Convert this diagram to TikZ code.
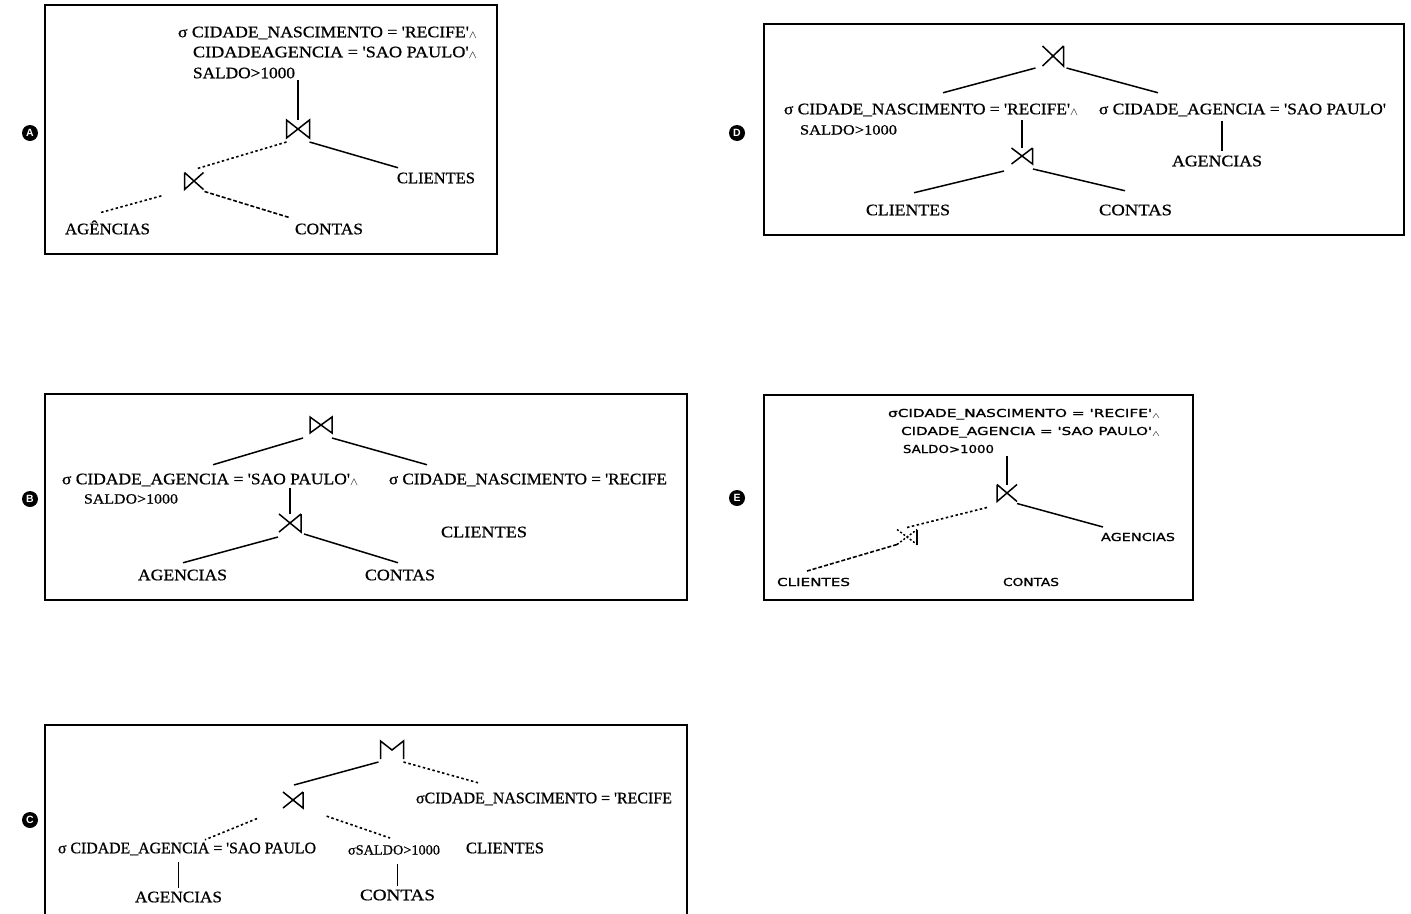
\documentclass[tikz,border=0pt]{standalone}
\usepackage{fontspec}
\usepackage{graphicx}
\setmainfont{Liberation Serif}[FakeBold=0.7]
\newfontfamily\esans{DejaVu Sans}[FakeBold=1.2]
\newfontfamily\csans{Liberation Sans}
\newcommand\tx[2]{\resizebox{#1pt}{\height}{#2}}
\newcommand\wg{\raisebox{-1pt}{$\scriptstyle\wedge$}}
\newcommand\qq{\textquotesingle}
\newcommand\gbow[1]{\draw[gl] (#1.north west)--(#1.south west)--(#1.north east)--(#1.south east)--cycle;}
\newcommand\gleftj[1]{\draw[gl] (#1.north west)--(#1.south west)--(#1.north east) (#1.north west)--(#1.south east);}
\newcommand\grightj[1]{\draw[gl] (#1.north east)--(#1.south east)--(#1.north west) (#1.south west)--(#1.north east);}
\newcommand\gmj[1]{\draw[gl] (#1.south west)--(#1.north west)--(#1.center)--(#1.north east)--(#1.south east);}
\tikzset{
  t/.style={inner sep=0pt, outer sep=0pt, anchor=west, text height=10.5pt, text depth=0pt, font=\fontsize{16}{18}\selectfont},
  ts/.style={t, text height=9pt, font=\fontsize{14}{16}\selectfont},
  te/.style={inner sep=0pt, outer sep=0pt, anchor=west, text height=8pt, text depth=0pt, font=\esans\fontsize{11}{13}\selectfont},
  sym/.style={rectangle, inner sep=0pt, outer sep=0pt, minimum width=#1pt, minimum height=17pt},
  gl/.style={line width=1.5pt},
  ln/.style={line width=1.5pt},
  dt/.style={line width=1.6pt, dash pattern=on 2.5pt off 2.5pt},
  dsh/.style={line width=1.6pt, dash pattern=on 4pt off 2pt},
  frame/.style={line width=2.6pt},
  badge/.style={circle, fill=black, text=white, inner sep=0pt, minimum size=16pt, font=\csans\bfseries\fontsize{10.5}{10.5}\selectfont},
}
\begin{document}
\begin{tikzpicture}[x=1pt, y=-1pt]
\useasboundingbox (0,0) rectangle (1411,913);

% ---------------- Panel A ----------------
\draw[frame] (45,5) rectangle (497,254);
\node[badge] (la) at (30,133) {A};
\node[t] (a1) at (178,32) {\tx{299}{σ CIDADE\_NASCIMENTO = \qq RECIFE\qq\wg}};
\node[t] (a2) at (193,52) {\tx{284}{CIDADEAGENCIA = \qq SAO PAULO\qq\wg}};
\node[t] (a3) at (193,73) {\tx{102}{SALDO>1000}};
\node[sym=23, minimum height=18pt] (aJ1) at (298,129) {};
\gbow{aJ1}
\node[sym=19] (aJ2) at (194,181) {};
\gleftj{aJ2}
\node[t] (acl) at (397,178) {\tx{78}{CLIENTES}};
\node[t] (aag) at (65,229) {\tx{85}{AGÊNCIAS}};
\node[t] (aco) at (295,229) {\tx{68}{CONTAS}};
\draw[ln, shorten >=2pt] (aJ1.north) -- (aJ1.north |- a3.south);
\draw[dt] ([shift={(0,4)}]aJ1.south west) -- ([shift={(-6,-4)}]aJ2.north east);
\draw[ln] ([shift={(0,4)}]aJ1.south east) -- ([shift={(1,-5)}]acl.north west);
\draw[dt, shorten <=24pt] (aJ2.south west) -- ([shift={(35,-11)}]aag.north west);
\draw[dsh] ([shift={(1,2)}]aJ2.south east) -- ([shift={(-5,-6)}]aco.north west);

% ---------------- Panel D ----------------
\draw[frame] (764,24) rectangle (1404,235);
\node[badge] (ld) at (737,133) {D};
\node[sym=21, minimum height=20pt] (dJ1) at (1053,56) {};
\grightj{dJ1}
\node[t] (d1) at (784,109) {\tx{294}{σ CIDADE\_NASCIMENTO = \qq RECIFE\qq\wg}};
\node[ts] (d2) at (800,130) {\tx{97}{SALDO>1000}};
\node[t] (d3) at (1099,109) {\tx{287}{σ CIDADE\_AGENCIA = \qq SAO PAULO\qq}};
\node[sym=21, minimum height=16pt] (dJ2) at (1022,156) {};
\grightj{dJ2}
\node[t] (dcl) at (866,210) {\tx{84}{CLIENTES}};
\node[t] (dco) at (1099,210) {\tx{73}{CONTAS}};
\node[t] (dag) at (1172,161) {\tx{90}{AGENCIAS}};
\coordinate (dv) at ([shift={(5,-5)}]dag.north);
\draw[ln] ([shift={(-7,2)}]dJ1.south west) -- ([shift={(159,-11)}]d1.north west);
\draw[ln] ([shift={(3,2)}]dJ1.south east) -- ([shift={(59,-11)}]d3.north west);
\draw[ln, shorten >=6pt] (dJ2.north) -- (dJ2.north |- d1.south);
\draw[ln] ([shift={(-7.5,7)}]dJ2.south west) -- ([shift={(48,-12)}]dcl.north west);
\draw[ln] ([shift={(0.5,5)}]dJ2.south east) -- ([shift={(26,-14)}]dco.north west);
\draw[ln, shorten >=7pt] (dv) -- (dv |- d3.south);

% ---------------- Panel B ----------------
\draw[frame] (45,394) rectangle (687,600);
\node[badge] (lb) at (30,499) {B};
\node[sym=22, minimum height=16pt] (bJ1) at (321,425) {};
\gbow{bJ1}
\node[t] (b1) at (62,479) {\tx{296}{σ CIDADE\_AGENCIA = \qq SAO PAULO\qq\wg}};
\node[ts] (b2) at (84,499) {\tx{94}{SALDO>1000}};
\node[t] (b3) at (389,479) {\tx{278}{σ CIDADE\_NASCIMENTO = \qq RECIFE}};
\node[sym=22, minimum height=18pt] (bJ2) at (290,523) {};
\grightj{bJ2}
\node[t] (bag) at (138,575) {\tx{89}{AGENCIAS}};
\node[t] (bco) at (365,575) {\tx{70}{CONTAS}};
\node[t] (bcl) at (441,532) {\tx{86}{CLIENTES}};
\draw[ln] ([shift={(-7,5)}]bJ1.south west) -- ([shift={(151,-9)}]b1.north west);
\draw[ln] ([shift={(0,5)}]bJ1.south east) -- ([shift={(38,-9)}]b3.north west);
\draw[ln, shorten >=4pt] (bJ2.north) -- (bJ2.north |- b1.south);
\draw[ln] ([shift={(-1,5)}]bJ2.south west) -- ([shift={(45,-7)}]bag.north west);
\draw[ln] ([shift={(3,2)}]bJ2.south east) -- ([shift={(33,-7)}]bco.north west);

% ---------------- Panel E ----------------
\draw[frame] (764,395) rectangle (1193,600);
\node[badge] (le) at (737,498) {E};
\node[te] (e1) at (888,413) {\tx{272}{σCIDADE\_NASCIMENTO = \qq RECIFE\qq\wg}};
\node[te] (e2) at (901,431) {\tx{259}{CIDADE\_AGENCIA = \qq SAO PAULO\qq\wg}};
\node[te] (e3) at (903,449) {\tx{91}{SALDO>1000}};
\node[sym=20] (eJ1) at (1007,493) {};
\gleftj{eJ1}
\node[sym=20, minimum height=15pt] (eJ2) at (907,537) {};
\draw[gl] (eJ2.north east) -- (eJ2.south east);
\draw[gl, dash pattern=on 2pt off 2pt] (eJ2.north west) -- (eJ2.south east) (eJ2.south west) -- (eJ2.north east);
\node[te] (ecl) at (777,582) {\tx{73}{CLIENTES}};
\node[te] (eco) at (1003,582) {\tx{56}{CONTAS}};
\node[te] (eag) at (1101,537) {\tx{74}{AGENCIAS}};
\draw[ln, shorten >=3pt] (eJ1.north) -- (eJ1.north |- e3.south);
\draw[dt] ([shift={(-10,6)}]eJ1.south west) -- ([shift={(0,-2)}]eJ2.north);
\draw[ln] ([shift={(0,2)}]eJ1.south east) -- ([shift={(2,-6)}]eag.north west);
\draw[dsh] (eJ2.south west) -- ([shift={(30,-7)}]ecl.north west);

% ---------------- Panel C ----------------
\draw[frame] (45,914) -- (45,725) -- (687,725) -- (687,914);
\node[badge] (lc) at (30,820) {C};
\node[sym=23, minimum height=18pt] (cJ1) at (392,750) {};
\gmj{cJ1}
\node[sym=20, minimum height=16pt] (cJ2) at (293,800) {};
\grightj{cJ2}
\node[t] (cna) at (416,798) {\tx{256}{σCIDADE\_NASCIMENTO = \qq RECIFE}};
\node[t] (cag) at (58,848) {\tx{258}{σ CIDADE\_AGENCIA = \qq SAO PAULO}};
\node[ts] (csa) at (348,850) {\tx{92}{σSALDO>1000}};
\node[t] (ccl) at (466,848) {\tx{78}{CLIENTES}};
\node[t] (cagb) at (135,897) {\tx{87}{AGENCIAS}};
\node[t] (ccob) at (360,895) {\tx{75}{CONTAS}};
\draw[ln] ([shift={(-2,3)}]cJ1.south west) -- ([shift={(1,-7)}]cJ2.north);
\draw[dt] ([shift={(0,3)}]cJ1.south east) -- ([shift={(62,-10)}]cna.north west);
\draw[dt, shorten <=28pt] (cJ2.south west) -- ([shift={(147,-3)}]cag.north west);
\draw[dt, shorten <=25pt] (cJ2.south east) -- ([shift={(42,-7.5)}]csa.north west);
\draw[ln, shorten <=4pt, shorten >=9pt] (cagb.north) -- (cagb.north |- cag.south);
\draw[ln, shorten <=4pt, shorten >=9pt] (ccob.north) -- (ccob.north |- csa.south);
\end{tikzpicture}
\end{document}
